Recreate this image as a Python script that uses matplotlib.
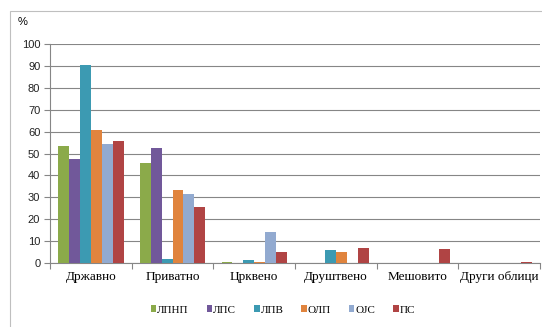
import matplotlib.pyplot as plt
import numpy as np
from matplotlib.patches import Rectangle

CATEGORIES = ['Државно', 'Приватно', 'Црквено', 'Друштвено', 'Мешовито', 'Други облици']
SERIES = ['ЛПНП', 'ЛПС', 'ЛПВ', 'ОЛП', 'ОЈС', 'ПС']
VALUES = {
    'ЛПНП': [53.5, 45.8, 0.6, 0, 0, 0],
    'ЛПС': [47.5, 52.4, 0, 0, 0, 0],
    'ЛПВ': [90.6, 2.0, 1.4, 6.1, 0, 0],
    'ОЛП': [60.9, 33.5, 0.6, 4.8, 0, 0],
    'ОЈС': [54.2, 31.7, 14.2, 0, 0, 0],
    'ПС': [55.7, 25.7, 4.9, 7.0, 6.4, 0.6],
}
COLORS = ['#8BAA4A', '#71589A', '#3C9AB2', '#E0843E', '#92AAD0', '#B04444']
Y_TICKS = list(range(0, 101, 10))

fig = plt.figure(figsize=(5.42, 3.27), dpi=100)
ax = fig.add_axes([0.0923, 0.1957, 0.904, 0.6697])

x = np.arange(len(CATEGORIES))
w = 0.8 / len(SERIES)
for i, (name, color) in enumerate(zip(SERIES, COLORS)):
    ax.bar(x - 0.4 + w * (i + 0.5), VALUES[name], width=w, color=color,
           label=name, zorder=3)

ax.set_xlim(-0.5, len(CATEGORIES) - 0.5)
ax.set_ylim(0, 100)
ax.set_yticks(Y_TICKS)
ax.set_yticklabels([str(t) for t in Y_TICKS], fontsize=8,
                   family='Liberation Sans', color='#222222')
ax.tick_params(axis='y', length=4, width=0.8, color='#868686', pad=3)
ax.set_xticks(x)
ax.set_xticklabels(CATEGORIES, fontsize=9.5, family='Liberation Serif')
ax.tick_params(axis='x', length=0, pad=6)
ax.set_xticks(np.arange(-0.5, len(CATEGORIES)), minor=True)
ax.tick_params(axis='x', which='minor', length=4, width=0.8, color='#868686')
ax.grid(axis='y', color='#868686', linewidth=0.8, zorder=0)
for s in ['top', 'right']:
    ax.spines[s].set_visible(False)
for s in ['left', 'bottom']:
    ax.spines[s].set_color('#868686')
    ax.spines[s].set_linewidth(0.8)

fig.text(18 / 542, 1 - 22 / 327, '%', fontsize=8, family='Liberation Sans',
         va='center', ha='left')

fig.patches.append(Rectangle((10 / 542, -0.1), 1.2, 1 - 11 / 327 + 0.1,
                             transform=fig.transFigure, fill=False,
                             edgecolor='#BFBFBF', linewidth=0.8))

ax.legend(loc='center', bbox_to_anchor=(283 / 542, 1 - 310 / 327),
          bbox_transform=fig.transFigure,
          ncol=6, frameon=False, handlelength=0.5, handleheight=0.5,
          handletextpad=0.1, columnspacing=1.6,
          prop={'family': 'Liberation Serif', 'size': 8})

fig.savefig('out.png', dpi=100)
